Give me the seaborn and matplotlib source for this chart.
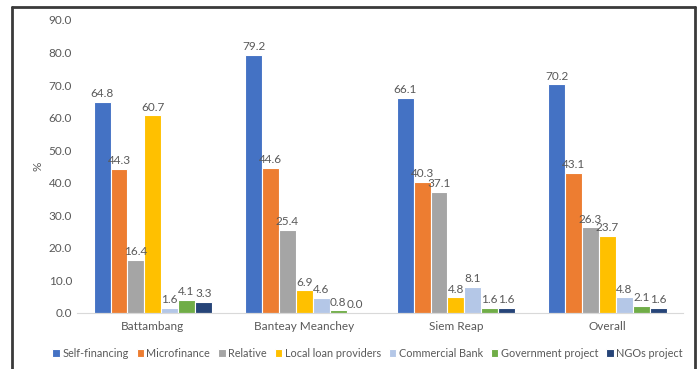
import numpy as np
import pandas as pd
import matplotlib
matplotlib.use("Agg")
import matplotlib.pyplot as plt
import seaborn as sns
from matplotlib.lines import Line2D

##### DATA
regions = ["Battambang", "Banteay Meanchey", "Siem Reap", "Overall"]
sources = ["Self-financing", "Microfinance", "Relative", "Local loan providers",
           "Commercial Bank", "Government project", "NGOs project"]
selfFinancing = [64.8, 79.2, 66.1, 70.2]
microfinance = [44.3, 44.6, 40.3, 43.1]
relative = [16.4, 25.4, 37.1, 26.3]
localLoan = [60.7, 6.9, 4.8, 23.7]
commercialBank = [1.6, 4.6, 8.1, 4.8]
governmentProject = [4.1, 0.8, 1.6, 2.1]
ngosProject = [3.3, 0.0, 1.6, 1.6]
colours = ["#4472C4", "#ED7D31", "#A5A5A5", "#FFC000", "#B4C7E7", "#70AD47", "#264478"]

allValues = [selfFinancing, microfinance, relative, localLoan,
             commercialBank, governmentProject, ngosProject]
rows = []
for src, vals in zip(sources, allValues):
    for reg, v in zip(regions, vals):
        rows.append({"region": reg, "source": src, "value": v})
df = pd.DataFrame(rows)

##### PLOT
sns.set_style("white")
plt.rcParams["font.family"] = ["Lato", "DejaVu Sans"]
textGrey = "#595959"

fig = plt.figure(figsize=(7, 3.69), dpi=100)
ax = fig.add_axes([0.11, 0.152, 0.866, 0.794])
sns.barplot(data=df, x="region", y="value", hue="source", order=regions,
            hue_order=sources, palette=colours, saturation=1, width=0.78, ax=ax,
            edgecolor="white", linewidth=0.8, legend=True)

for cont in ax.containers:
    ax.bar_label(cont, fmt="%.1f", fontsize=8.5, color=textGrey, padding=2)

ax.set_ylim(0, 90)
ax.set_yticks(np.arange(0, 91, 10))
ax.set_yticklabels(["%.1f" % t for t in np.arange(0, 91, 10)])
ax.set_xlabel("")
ax.set_ylabel("%", color=textGrey, fontsize=8.5, labelpad=4)
ax.tick_params(axis="both", length=0, labelsize=8.5, labelcolor=textGrey)
ax.tick_params(axis="x", pad=6)
for side in ["top", "right", "left"]:
    ax.spines[side].set_visible(False)
ax.spines["bottom"].set_color("#D9D9D9")

handles, labels = ax.get_legend_handles_labels()
ax.legend_.remove()
fig.legend(handles, labels, loc="center", bbox_to_anchor=(0.525, 0.043), ncol=7,
           frameon=False, fontsize=7.8, handlelength=0.7, handleheight=0.7,
           handletextpad=0.2, columnspacing=0.75, labelcolor=textGrey)

#dark frame around the chart (open at the bottom, as in the cropped screenshot)
x0, x1 = 12 / 700, 695 / 700
yTop = 1 - 7 / 369
frameStyle = dict(transform=fig.transFigure, color="#3A3A3A", linewidth=2)
fig.add_artist(Line2D([x0, x1], [yTop, yTop], **frameStyle))
fig.add_artist(Line2D([x0, x0], [0, yTop], **frameStyle))
fig.add_artist(Line2D([x1, x1], [0, yTop], **frameStyle))

plt.savefig("out.png", dpi=100)
